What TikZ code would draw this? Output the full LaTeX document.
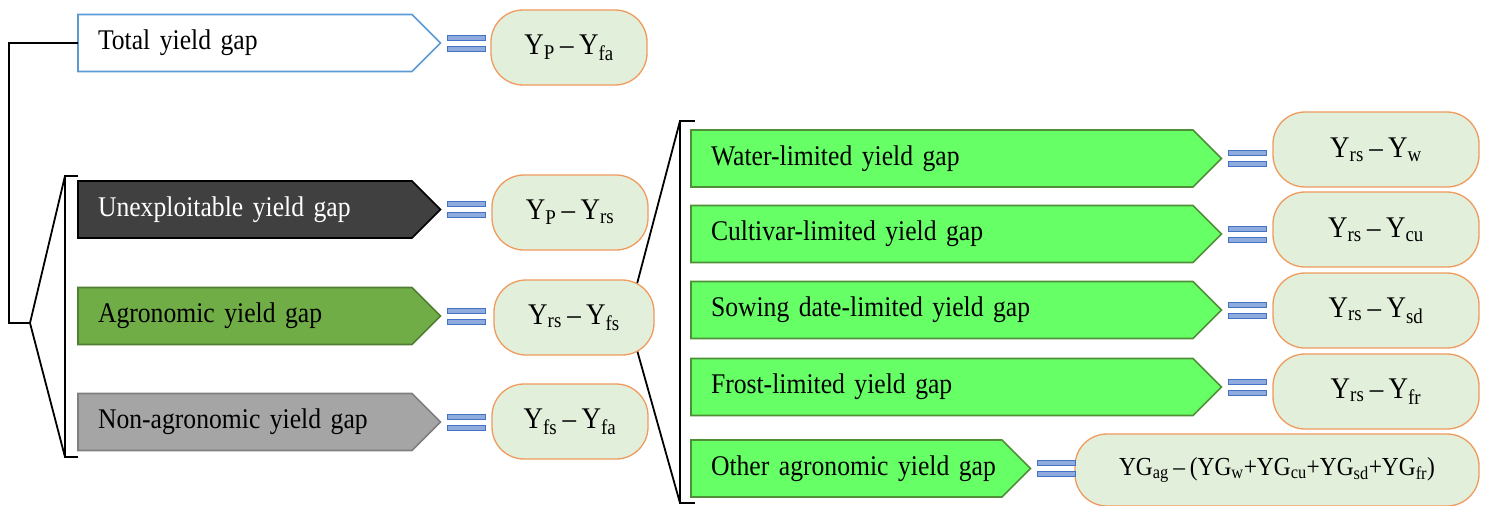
\documentclass[tikz,border=0pt]{standalone}
\usepackage{fontspec}
\setmainfont{Liberation Serif}[FakeStretch=0.9, WordSpace=0.8]
\usetikzlibrary{shapes.symbols,calc,backgrounds}
\definecolor{totblue}{HTML}{5B9BD5}
\definecolor{unexgray}{HTML}{404040}
\definecolor{agrogreen}{HTML}{70AD47}
\definecolor{agroline}{HTML}{507E32}
\definecolor{nongray}{HTML}{A5A5A5}
\definecolor{nonline}{HTML}{7F7F7F}
\definecolor{limgreen}{HTML}{66FF66}
\definecolor{limline}{HTML}{4F8F38}
\definecolor{resfill}{HTML}{E2EFDA}
\definecolor{resline}{HTML}{F09A5E}
\definecolor{eqfill}{HTML}{8FAADC}
\definecolor{eqline}{HTML}{4472C4}
\tikzset{
	gapA/.style={
		shape=signal, signal to=east, signal pointer angle=90,
		draw, line width=1.6pt, anchor=west, minimum height=57pt,
		inner xsep=20pt, inner ysep=0pt, outer sep=0pt, align=left,
		font={\fontsize{28.5}{32}\selectfont}
	},
	resA/.style={
		draw=resline, fill=resfill, line width=1.3pt, rounded corners=32pt,
		minimum height=75pt, inner sep=0pt,
		font={\fontsize{30}{34}\selectfont}
	},
	eqA/.style={draw=eqline, fill=eqfill, line width=1pt},
	brA/.style={line width=1.8pt},
}
\def\widL{294}
\def\widR{462}
% two bars of the equal sign next to a gap box
\newcommand\eqsign[1]{%
	\draw[eqA] ($(#1.east)+(7,-8)$) rectangle ++(38,5);
	\draw[eqA] ($(#1.east)+(7,3)$) rectangle ++(38,5);
}

\begin{document}
\begin{tikzpicture}[x=1pt, y=-1pt]
\useasboundingbox (0,0) rectangle (1489,506);

% first level
\node[gapA, fill=white, draw=totblue, text width=\widL pt] (total) at (78,43) {Total yield gap};
\node[gapA, fill=unexgray, draw=black, text=white, text width=\widL pt] (unex) at (78,209.5) {Unexploitable yield gap};
\node[gapA, fill=agrogreen, draw=agroline, text width=\widL pt] (agro) at (78,316) {Agronomic yield gap};
\node[gapA, fill=nongray, draw=nonline, text width=\widL pt] (nonag) at (78,422) {Non-agronomic yield gap};

\node[resA, minimum width=156pt] (rtotal) at (569,47.5) {Y\textsubscript{P} -- Y\textsubscript{fa}};
\node[resA, minimum width=156pt] (runex) at (570,212.5) {Y\textsubscript{P} -- Y\textsubscript{rs}};
\node[resA, minimum width=160pt] (ragro) at (574,317.5) {Y\textsubscript{rs} -- Y\textsubscript{fs}};
\node[resA, minimum width=156pt] (rnonag) at (570,421.5) {Y\textsubscript{fs} -- Y\textsubscript{fa}};

% second level
\node[gapA, fill=limgreen, draw=limline, text width=\widR pt] (water) at (691,158.5) {Water-limited yield gap};
\node[gapA, fill=limgreen, draw=limline, text width=\widR pt] (cult) at (691,234) {Cultivar-limited yield gap};
\node[gapA, fill=limgreen, draw=limline, text width=\widR pt] (sow) at (691,310) {Sowing date-limited yield gap};
\node[gapA, fill=limgreen, draw=limline, text width=\widR pt] (frost) at (691,387) {Frost-limited yield gap};
\node[gapA, fill=limgreen, draw=limline, text width=271pt] (other) at (691,468.5) {\mbox{Other agronomic yield gap}};

\node[resA, minimum width=206pt] (rwater) at (1376,149.5) {Y\textsubscript{rs} -- Y\textsubscript{w}};
\node[resA, minimum width=206pt] (rcult) at (1376,229.5) {Y\textsubscript{rs} -- Y\textsubscript{cu}};
\node[resA, minimum width=206pt] (rsow) at (1376,310.5) {Y\textsubscript{rs} -- Y\textsubscript{sd}};
\node[resA, minimum width=206pt] (rfrost) at (1376,391.5) {Y\textsubscript{rs} -- Y\textsubscript{fr}};
\node[resA, minimum width=404pt, minimum height=72pt, font={\fontsize{26}{30}\selectfont}] (rother) at (1277,470)
	{YG\textsubscript{ag} -- (YG\textsubscript{w}+YG\textsubscript{cu}+YG\textsubscript{sd}+YG\textsubscript{fr})};

\eqsign{total} \eqsign{unex} \eqsign{agro} \eqsign{nonag}
\eqsign{water} \eqsign{cult} \eqsign{sow} \eqsign{frost} \eqsign{other}

% brackets
\coordinate (lroot) at (9,323);
\coordinate (lapex) at (30,323);
\coordinate (ltop) at (65,176);
\coordinate (lbot) at (65,457);
\coordinate (rapex) at (628,318);
\coordinate (rtop) at (680,121);
\coordinate (rbot) at (680,503);
\draw[brA] (total.west) -| (lroot) -- (lapex);
\draw[brA] (ltop) -- (lapex) -- (lbot);
\draw[brA] ($(ltop)+(13,0)$) -- (ltop) -- (lbot) -- ++(13,0);
\begin{scope}[on background layer]
\draw[brA] (rtop) -- (rapex) -- (rbot);
\end{scope}
\draw[brA] ($(rtop)+(15,0)$) -- (rtop) -- (rbot) -- ++(15,0);
\end{tikzpicture}
\end{document}
